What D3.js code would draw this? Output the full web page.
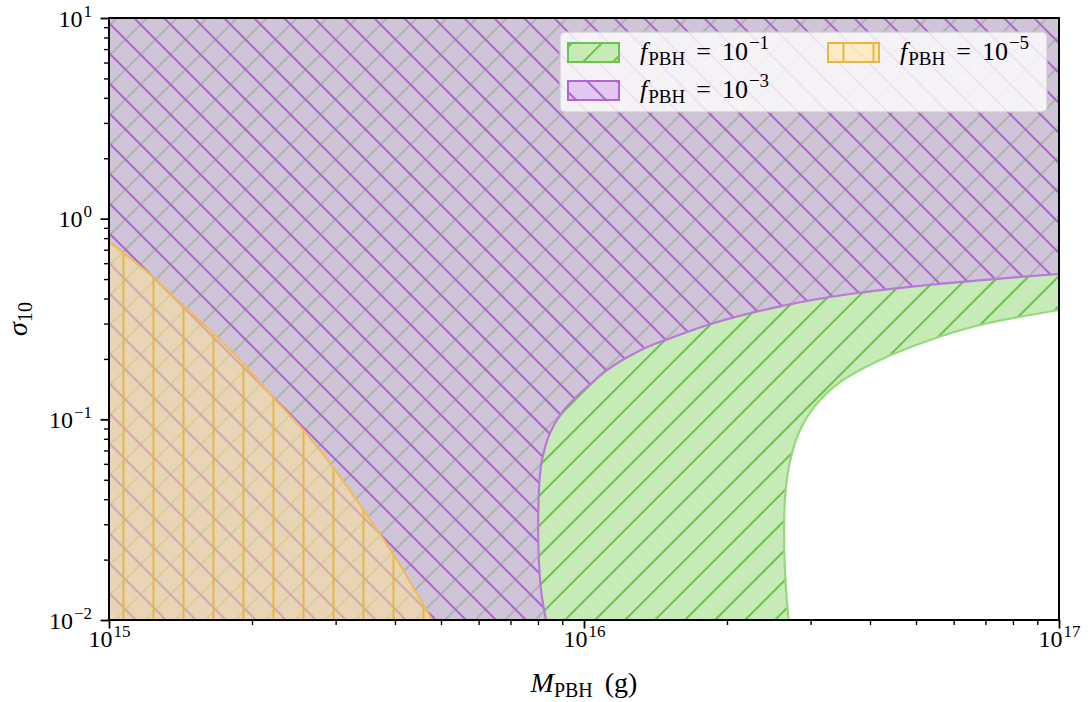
<!DOCTYPE html>
<html>
<head>
<meta charset="utf-8">
<script src="https://cdn.jsdelivr.net/npm/d3@7"></script>
<style>
  body { margin: 0; background: #fff; }
  svg text { font-family: "Liberation Serif", "DejaVu Serif", serif; fill: #000; }
</style>
</head>
<body>
<svg id="chart" width="1088" height="702"></svg>
<script>
// boundaries: mass in g, sigma_10
const massGreen = [2.696e16, 2.658e16, 2.637e16, 2.658e16, 2.728e16, 2.849e16, 3.05e16, 3.442e16, 4.2e16, 5.353e16, 6.82e16, 1e17];
const sigmaGreen = [0.01, 0.0153, 0.0271, 0.0444, 0.0649, 0.0885, 0.115, 0.152, 0.1975, 0.2485, 0.2952, 0.3506];
const massPurple = [8.318e15, 8.12e15, 8.02e15, 8.015e15, 8.06e15, 8.157e15, 8.479e15, 8.974e15, 9.714e15, 1.0445e16, 1.118e16, 1.331e16, 1.503e16, 1.878e16, 2.663e16, 3.756e16, 5.302e16, 7.513e16, 1e17];
const sigmaPurple = [0.01, 0.0141, 0.0223, 0.0353, 0.0498, 0.0627, 0.0855, 0.1075, 0.132, 0.1535, 0.176, 0.224, 0.251, 0.302, 0.371, 0.426, 0.467, 0.503, 0.53];
const massOrange = [1e15, 1.238e15, 1.431e15, 1.655e15, 1.915e15, 2.214e15, 2.586e15, 2.991e15, 3.459e15, 4.001e15, 4.627e15, 4.786e15];
const sigmaOrange = [0.768, 0.512, 0.371, 0.269, 0.191, 0.129, 0.0865, 0.0559, 0.0345, 0.0206, 0.0115, 0.01];

const fExponents = [-1, -3, -5];
const xTickExponents = [15, 16, 17];
const yTickExponents = [-2, -1, 0, 1];

const width = 1088;
const height = 702;
const margin = {top: 18, right: 29, bottom: 82, left: 109};

const x = d3.scaleLog().domain([1e15, 1e17]).range([margin.left, width - margin.right]);
const y = d3.scaleLog().domain([1e-2, 1e1]).range([height - margin.bottom, margin.top]);

const svg = d3.select("#chart");
const defs = svg.append("defs");

defs.append("clipPath").attr("id", "plot-clip")
  .append("rect")
  .attr("x", margin.left).attr("y", margin.top)
  .attr("width", width - margin.left - margin.right)
  .attr("height", height - margin.top - margin.bottom);

const series = [
  {key: "green", mass: massGreen, sigma: sigmaGreen, exp: fExponents[0],
   fill: "#c6ebb6", fillOpacity: 1, hatch: "/", hatchColor: "#6cc54a", edge: "#94da7c", offset: 15},
  {key: "purple", mass: massPurple, sigma: sigmaPurple, exp: fExponents[1],
   fill: "rgb(214,172,237)", fillOpacity: 0.62, hatch: "\\", hatchColor: "#b064d6", edge: "#b77ad9", offset: 4},
  {key: "orange", mass: massOrange, sigma: sigmaOrange, exp: fExponents[2],
   fill: "rgb(255,230,146)", fillOpacity: 0.5, hatch: "|", hatchColor: "#e8b644", edge: "#eebd5a", offset: 3.5}
];

const curve = d3.line().curve(d3.curveCatmullRom.alpha(0.5));

function boundaryPoints(s) {
  return s.mass.map((m, i) => [x(m), y(s.sigma[i])]);
}

function regionPath(s) {
  const pts = boundaryPoints(s);
  const [x0, x1] = x.range();
  const [y1, y0] = y.range();
  if (s.key === "orange") {
    return curve(pts) + `L${x0},${y1}Z`;
  }
  return curve(pts) + `L${x1 + 5},${y0 - 5}L${x0 - 5},${y0 - 5}L${x0 - 5},${y1 + 5}Z`;
}

function drawHatch(g, kind, color, offset, x0, y0, x1, y1) {
  const step = 30;
  let segs = [];
  if (kind === "/") {
    const start = Math.floor((x0 + y0 - offset) / step) * step + offset;
    segs = d3.range(start, x1 + y1 + step, step).map((c) => [[c - y1, y1], [c - y0, y0]]);
  } else if (kind === "\\") {
    const start = Math.floor((y0 - x1 - offset) / step) * step + offset;
    segs = d3.range(start, y1 - x0 + step, step).map((c) => [[x0, x0 + c], [x1, x1 + c]]);
  } else {
    const start = Math.floor((x0 - offset) / step) * step + offset;
    segs = d3.range(start, x1 + step, step).map((c) => [[c, y0], [c, y1]]);
  }
  g.selectAll("line.hatch")
    .data(segs)
    .join("line")
    .attr("class", "hatch")
    .attr("x1", (d) => d[0][0]).attr("y1", (d) => d[0][1])
    .attr("x2", (d) => d[1][0]).attr("y2", (d) => d[1][1])
    .attr("stroke", color)
    .attr("stroke-width", 2);
}

const plot = svg.append("g").attr("clip-path", "url(#plot-clip)");

series.forEach((s) => {
  const d = regionPath(s);
  defs.append("clipPath").attr("id", `clip-${s.key}`).append("path").attr("d", d);
  const g = plot.append("g").attr("class", `region-${s.key}`);
  g.append("path").attr("d", d).attr("fill", s.fill).attr("fill-opacity", s.fillOpacity);
  const hg = g.append("g").attr("clip-path", `url(#clip-${s.key})`);
  drawHatch(hg, s.hatch, s.hatchColor, s.offset, margin.left, margin.top, width - margin.right, height - margin.bottom);
  g.append("path")
    .attr("d", curve(boundaryPoints(s)))
    .attr("fill", "none")
    .attr("stroke", s.edge)
    .attr("stroke-width", 2.2);
});

// frame
svg.append("rect")
  .attr("x", margin.left).attr("y", margin.top)
  .attr("width", width - margin.left - margin.right)
  .attr("height", height - margin.top - margin.bottom)
  .attr("fill", "none").attr("stroke", "#000").attr("stroke-width", 2);

// axes
const xMajor = xTickExponents.map((e) => Math.pow(10, e));
const yMajor = yTickExponents.map((e) => Math.pow(10, e));
const xMinor = x.ticks().filter((t) => !xMajor.some((m) => Math.abs(m - t) / m < 1e-6));
const yMinor = y.ticks().filter((t) => !yMajor.some((m) => Math.abs(m - t) / m < 1e-6));

function styleAxis(g, w) {
  g.select(".domain").remove();
  g.selectAll(".tick line").attr("stroke", "#000").attr("stroke-width", w);
}

svg.append("g")
  .attr("transform", `translate(0,${height - margin.bottom})`)
  .call(d3.axisBottom(x).tickValues(xMinor).tickSize(5).tickFormat(""))
  .call((g) => styleAxis(g, 1.4));
svg.append("g")
  .attr("transform", `translate(${margin.left},0)`)
  .call(d3.axisLeft(y).tickValues(yMinor).tickSize(5).tickFormat(""))
  .call((g) => styleAxis(g, 1.4));

function powerLabel(text, exp) {
  text.text(null);
  text.append("tspan").text("10");
  text.append("tspan").attr("dx", 1).attr("dy", -10).attr("font-size", 17).text(String(exp).replace("-", "\u2212"));
}

const xAxis = svg.append("g")
  .attr("transform", `translate(0,${height - margin.bottom})`)
  .call(d3.axisBottom(x).tickValues(xMajor).tickSize(8.5).tickPadding(0).tickFormat(""))
  .call((g) => styleAxis(g, 1.8));
xAxis.selectAll(".tick text")
  .attr("font-size", 24).attr("y", 27).attr("dy", null)
  .attr("text-anchor", "middle")
  .each(function (d, i) { powerLabel(d3.select(this), xTickExponents[i]); });

const yAxis = svg.append("g")
  .attr("transform", `translate(${margin.left},0)`)
  .call(d3.axisLeft(y).tickValues(yMajor).tickSize(8.5).tickPadding(0).tickFormat(""))
  .call((g) => styleAxis(g, 1.8));
yAxis.selectAll(".tick text")
  .attr("font-size", 24).attr("x", -17).attr("dy", 8)
  .attr("text-anchor", "end")
  .each(function (d, i) { powerLabel(d3.select(this), yTickExponents[i]); });

// axis labels
const xLabel = svg.append("text")
  .attr("x", (margin.left + width - margin.right) / 2)
  .attr("y", 692)
  .attr("text-anchor", "middle")
  .attr("font-size", 28);
xLabel.append("tspan").attr("font-style", "italic").text("M");
xLabel.append("tspan").attr("font-size", 20).attr("dy", 5).text("PBH");
xLabel.append("tspan").attr("dy", -5).attr("dx", 12).text("(g)");

const yLabel = svg.append("text")
  .attr("transform", `translate(27,${(margin.top + height - margin.bottom) / 2}) rotate(-90)`)
  .attr("text-anchor", "middle")
  .attr("font-size", 28);
yLabel.append("tspan").attr("font-style", "italic").text("\u03c3");
yLabel.append("tspan").attr("font-size", 20).attr("dy", 5).text("10");

// legend
const legend = svg.append("g").attr("class", "legend");
legend.append("rect")
  .attr("x", 560).attr("y", 32).attr("width", 487).attr("height", 80).attr("rx", 5)
  .attr("fill", "#fff").attr("fill-opacity", 0.8)
  .attr("stroke", "#cccccc").attr("stroke-opacity", 0.8).attr("stroke-width", 1.5);

const legendPos = [[568, 43], [568, 81], [828, 43]];
series.forEach((s, i) => {
  const [lx, ly] = legendPos[i];
  const pw = 51, ph = 19;
  defs.append("clipPath").attr("id", `lclip-${s.key}`)
    .append("rect").attr("x", lx).attr("y", ly).attr("width", pw).attr("height", ph);
  const g = legend.append("g");
  g.append("rect").attr("x", lx).attr("y", ly).attr("width", pw).attr("height", ph)
    .attr("fill", s.fill).attr("fill-opacity", s.fillOpacity);
  drawHatch(g.append("g").attr("clip-path", `url(#lclip-${s.key})`), s.hatch, s.hatchColor, s.offset, lx, ly, lx + pw, ly + ph);
  g.append("rect").attr("x", lx).attr("y", ly).attr("width", pw).attr("height", ph)
    .attr("fill", "none").attr("stroke", s.hatchColor).attr("stroke-width", 2);

  const t = g.append("text").attr("x", lx + 72).attr("y", ly + 17).attr("font-size", 26);
  t.append("tspan").attr("font-style", "italic").text("f");
  t.append("tspan").attr("font-size", 19).attr("dy", 5).attr("dx", 1).text("PBH");
  t.append("tspan").attr("dy", -5).attr("dx", 11).text("=");
  t.append("tspan").attr("dx", 11).text("10");
  t.append("tspan").attr("font-size", 19).attr("dx", 1).attr("dy", -11).text("\u2212" + Math.abs(s.exp));
});
</script>
</body>
</html>
